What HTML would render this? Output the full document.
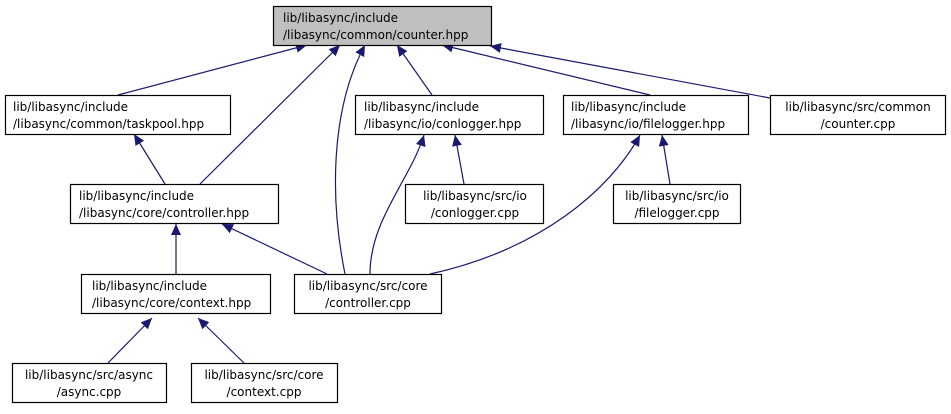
<!DOCTYPE html>
<html><head><meta charset="utf-8"><style>
html,body{margin:0;padding:0;background:#fff;}
svg text{font-family:"DejaVu Sans","Liberation Sans",sans-serif;font-size:12px;fill:#000;}
</style></head><body>
<svg width="951" height="409" viewBox="0 0 951 409" xmlns="http://www.w3.org/2000/svg">
<defs>
<marker id="a" markerWidth="12" markerHeight="10" refX="11" refY="5" orient="auto" markerUnits="userSpaceOnUse">
<path d="M0,0 L11,5 L0,10 z" fill="#191970"/>
</marker>
</defs>
<g stroke="#191970" stroke-width="1.2" fill="none" marker-end="url(#a)">
<line x1="118" y1="95" x2="307" y2="45"/>
<line x1="200" y1="184" x2="340" y2="45"/>
<path d="M345,274 C330,200 330,110 365,45"/>
<line x1="432" y1="95" x2="397" y2="45"/>
<line x1="650" y1="95" x2="442" y2="45"/>
<line x1="770" y1="98" x2="490" y2="46"/>
<line x1="165" y1="184" x2="134" y2="134"/>
<path d="M370,274 C370,220 410,180 424,135"/>
<line x1="464" y1="184" x2="455" y2="135"/>
<path d="M430,274 C540,250 610,190 640,135"/>
<line x1="670" y1="184" x2="662" y2="135"/>
<line x1="176" y1="274" x2="176" y2="224"/>
<line x1="327" y1="274" x2="222" y2="224"/>
<line x1="108" y1="363" x2="152" y2="318"/>
<line x1="244" y1="363" x2="198" y2="318"/>
</g>
<g stroke="#000" stroke-width="1.2">
<rect x="273.5" y="6.5" width="218" height="39" fill="#bfbfbf"/>
<rect x="5.5" y="95.5" width="225" height="39" fill="#fff"/>
<rect x="355.5" y="95.5" width="188" height="39" fill="#fff"/>
<rect x="563.5" y="95.5" width="185" height="39" fill="#fff"/>
<rect x="770.5" y="95.5" width="175" height="39" fill="#fff"/>
<rect x="70.5" y="184.5" width="208" height="39" fill="#fff"/>
<rect x="405.5" y="184.5" width="138" height="39" fill="#fff"/>
<rect x="613.5" y="184.5" width="127" height="39" fill="#fff"/>
<rect x="81.5" y="274.5" width="189" height="39" fill="#fff"/>
<rect x="294.5" y="274.5" width="147" height="39" fill="#fff"/>
<rect x="12.5" y="363.5" width="154" height="39" fill="#fff"/>
<rect x="191.5" y="363.5" width="146" height="39" fill="#fff"/>
</g>
<text x="283" y="22">lib/libasync/include</text><text x="283" y="39">/libasync/common/counter.hpp</text>
<text x="13" y="111">lib/libasync/include</text><text x="13" y="128">/libasync/common/taskpool.hpp</text>
<text x="364" y="111">lib/libasync/include</text><text x="364" y="128">/libasync/io/conlogger.hpp</text>
<text x="571" y="111">lib/libasync/include</text><text x="571" y="128">/libasync/io/filelogger.hpp</text>
<text x="858" y="111" text-anchor="middle">lib/libasync/src/common</text><text x="858" y="128" text-anchor="middle">/counter.cpp</text>
<text x="79" y="200">lib/libasync/include</text><text x="79" y="217">/libasync/core/controller.hpp</text>
<text x="475" y="200" text-anchor="middle">lib/libasync/src/io</text><text x="475" y="217" text-anchor="middle">/conlogger.cpp</text>
<text x="677" y="200" text-anchor="middle">lib/libasync/src/io</text><text x="677" y="217" text-anchor="middle">/filelogger.cpp</text>
<text x="92" y="290">lib/libasync/include</text><text x="92" y="307">/libasync/core/context.hpp</text>
<text x="368" y="290" text-anchor="middle">lib/libasync/src/core</text><text x="368" y="307" text-anchor="middle">/controller.cpp</text>
<text x="89" y="379" text-anchor="middle">lib/libasync/src/async</text><text x="89" y="396" text-anchor="middle">/async.cpp</text>
<text x="264" y="379" text-anchor="middle">lib/libasync/src/core</text><text x="264" y="396" text-anchor="middle">/context.cpp</text>
</svg>
</body></html>
